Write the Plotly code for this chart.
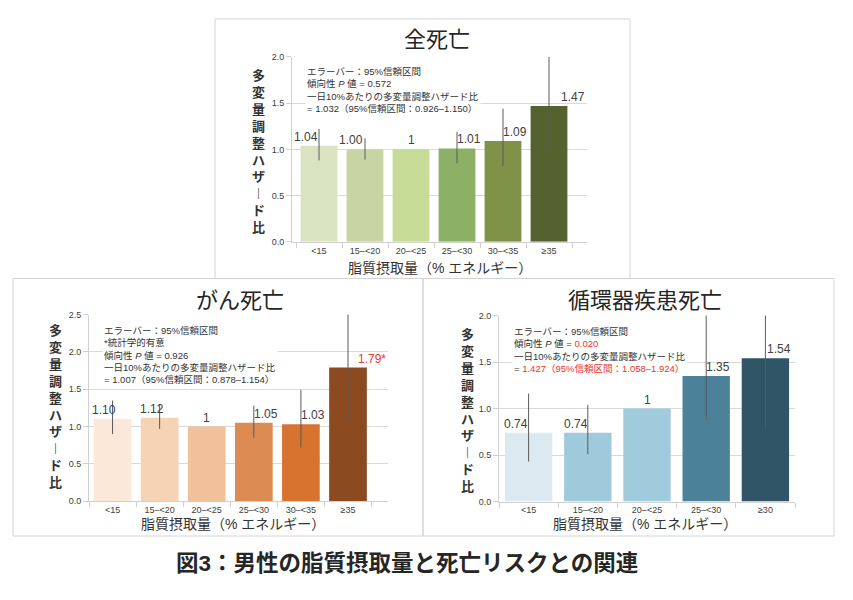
import plotly.graph_objects as go

# page body has an 8px margin in the browser: draw in screen coordinates, offset by it
OFF = 8
W, H = 853 - OFF, 600 - OFF

# ---------------- data ----------------
cats6 = ["<15", "15–<20", "20–<25", "25–<30", "30–<35", "≥35"]
cats5 = ["<15", "15–<20", "20–<25", "25–<30", "≥30"]

all_hr = [1.04, 1.00, 1.00, 1.01, 1.09, 1.47]
all_lo = [0.88, 0.89, 1.00, 0.85, 0.82, 0.97]
all_hi = [1.22, 1.12, 1.00, 1.19, 1.44, 2.20]
all_lbl = ["1.04", "1.00", "1", "1.01", "1.09", "1.47"]

can_hr = [1.10, 1.12, 1.00, 1.05, 1.03, 1.79]
can_lo = [0.90, 0.97, 1.00, 0.85, 0.72, 1.10]
can_hi = [1.35, 1.30, 1.00, 1.28, 1.49, 2.90]
can_lbl = ["1.10", "1.12", "1", "1.05", "1.03", "1.79*"]

cvd_hr = [0.74, 0.74, 1.00, 1.35, 1.54]
cvd_lo = [0.43, 0.51, 1.00, 0.88, 0.77]
cvd_hi = [1.16, 1.04, 1.00, 2.10, 2.30]
cvd_lbl = ["0.74", "0.74", "1", "1.35", "1.54"]

green = ["#d9e3c2", "#c9d4a4", "#c6dc96", "#8cb066", "#7e9348", "#546230"]
orange = ["#fbe8d8", "#f6d3b5", "#f0c19b", "#dc8c52", "#d8732f", "#8b4a1f"]
blue = ["#dce9f0", "#9ecadb", "#a0cbdc", "#4b8299", "#2f5566"]

FONT = "Liberation Sans, Noto Sans CJK JP, sans-serif"
TXT = "#404040"


def px(x):
    return (x - OFF) / W


def py(y):
    return 1 - (y - OFF) / H


fig = go.Figure()

panels = [
    dict(cats=cats6, hr=all_hr, lo=all_lo, hi=all_hi, lbl=all_lbl, col=green,
         xd=(292, 587), yd=(52.7, 240.7), rng=2.0, ax="", title="全死亡",
         tpos=(437, 35), ylab=(258, 149), xlab=(440, 267),
         shifts=[-13, -14, 0, 12, 12, 24], lblcol=[TXT] * 6,
         note=("エラーバー：95%信頼区間<br>傾向性 <i>P</i> 値 = 0.572<br>"
               "一日10%あたりの多変量調整ハザード比<br>= 1.032（95%信頼区間：0.926–1.150）"),
         npos=(305, 60)),
    dict(cats=cats6, hr=can_hr, lo=can_lo, hi=can_hi, lbl=can_lbl, col=orange,
         xd=(89, 388), yd=(314.7, 504.7), rng=2.5, ax="2", title="がん死亡",
         tpos=(240, 300), ylab=(55, 408), xlab=(233, 528),
         shifts=[-9, -8, 0, 12, 12, 24], lblcol=[TXT] * 5 + ["#e8372f"],
         note=("エラーバー：95%信頼区間<br>*統計学的有意<br>傾向性 <i>P</i> 値 = 0.926<br>"
               "一日10%あたりの多変量調整ハザード比<br>= 1.007（95%信頼区間：0.878–1.154）"),
         npos=(102, 323)),
    dict(cats=cats5, hr=cvd_hr, lo=cvd_lo, hi=cvd_hi, lbl=cvd_lbl, col=blue,
         xd=(499, 795), yd=(315.7, 505), rng=2.0, ax="3", title="循環器疾患死亡",
         tpos=(645, 300), ylab=(467, 412), xlab=(645, 528),
         shifts=[-13, -12, 0, 12, 14], lblcol=[TXT] * 5,
         note=("エラーバー：95%信頼区間<br>傾向性 <i>P</i> 値 = <span style='color:#e8372f'>0.020</span><br>"
               "一日10%あたりの多変量調整ハザード比<br>= <span style='color:#e8372f'>1.427（95%信頼区間：1.058–1.924）</span>"),
         npos=(512, 324)),
]

ylabel = "<br>".join(list("多変量調整ハザ")) + "<br>︱<br>ド<br>比"

for p in panels:
    xa = "x" + p["ax"]
    ya = "y" + p["ax"]
    fig.add_trace(go.Bar(
        x=p["cats"], y=p["hr"], xaxis=xa, yaxis=ya,
        marker=dict(color=p["col"], line=dict(width=0)),
        error_y=dict(type="data", symmetric=False,
                     array=[h - v for h, v in zip(p["hi"], p["hr"])],
                     arrayminus=[v - l for l, v in zip(p["lo"], p["hr"])],
                     color="#5a5a5a", thickness=1, width=0),
        showlegend=False, hoverinfo="skip"))
    xkey = "xaxis" + p["ax"]
    ykey = "yaxis" + p["ax"]
    fig.layout[xkey] = dict(
        domain=[px(p["xd"][0]), px(p["xd"][1])], anchor=ya,
        type="category", showline=True, linecolor="#d0d0d0", linewidth=1,
        ticks="outside", tickson="boundaries", ticklen=5, tickcolor="#d0d0d0",
        tickfont=dict(size=9, color=TXT, family=FONT), showgrid=False,
        fixedrange=True)
    fig.layout[ykey] = dict(
        domain=[py(p["yd"][1]), py(p["yd"][0])], anchor=xa,
        range=[0, p["rng"]], dtick=0.5, tickformat=".1f",
        showline=True, linecolor="#d0d0d0", linewidth=1,
        ticks="outside", ticklen=5, tickcolor="#d0d0d0",
        gridcolor="#d9d9d9", gridwidth=1, zeroline=False,
        tickfont=dict(size=9, color=TXT, family=FONT), fixedrange=True)
    # data labels
    for c, v, t, s, lc in zip(p["cats"], p["hr"], p["lbl"], p["shifts"], p["lblcol"]):
        fig.add_annotation(x=c, y=v, xref=xa, yref=ya, text=t, showarrow=False,
                           yanchor="bottom", xshift=s, yshift=0,
                           font=dict(size=12, color=lc, family=FONT))
    # title
    fig.add_annotation(x=px(p["tpos"][0]), y=py(p["tpos"][1]), xref="paper", yref="paper",
                       text=p["title"], showarrow=False, xanchor="center", yanchor="middle",
                       font=dict(size=22, color="#262626", family=FONT))
    # y label (vertical)
    fig.add_annotation(x=px(p["ylab"][0]), y=py(p["ylab"][1]), xref="paper", yref="paper",
                       text="<b>" + ylabel + "</b>", showarrow=False,
                       xanchor="center", yanchor="middle",
                       font=dict(size=13, color="#333333", family=FONT))
    # x label
    fig.add_annotation(x=px(p["xlab"][0]), y=py(p["xlab"][1]), xref="paper", yref="paper",
                       text="脂質摂取量（% エネルギー）", showarrow=False,
                       xanchor="center", yanchor="middle",
                       font=dict(size=14, color="#333333", family=FONT))
    # note
    fig.add_annotation(x=px(p["npos"][0]), y=py(p["npos"][1]), xref="paper", yref="paper",
                       text=p["note"], showarrow=False, xanchor="left", yanchor="top",
                       align="left", bgcolor="white", borderpad=1,
                       font=dict(size=9.5, color="#333333", family=FONT))

# panel boxes
for x0, y0, x1, y1 in [(215, 14, 630, 278), (13, 278, 423, 540), (423, 278, 834, 540)]:
    fig.add_shape(type="rect", xref="paper", yref="paper",
                  x0=px(x0), x1=px(x1), y0=py(y1), y1=py(y0),
                  line=dict(color="#d4d4d4", width=1), fillcolor="rgba(0,0,0,0)", layer="below")

# caption
fig.add_annotation(x=px(407), y=py(568), xref="paper", yref="paper",
                   text="<b>図3：男性の脂質摂取量と死亡リスクとの関連</b>", showarrow=False,
                   xanchor="center", yanchor="middle",
                   font=dict(size=22.5, color="#262626", family=FONT))

fig.update_layout(width=W, height=H, margin=dict(l=0, r=0, t=0, b=0),
                  paper_bgcolor="white", plot_bgcolor="white", bargap=0.2,
                  font=dict(family=FONT))

fig.write_html("out.html")
